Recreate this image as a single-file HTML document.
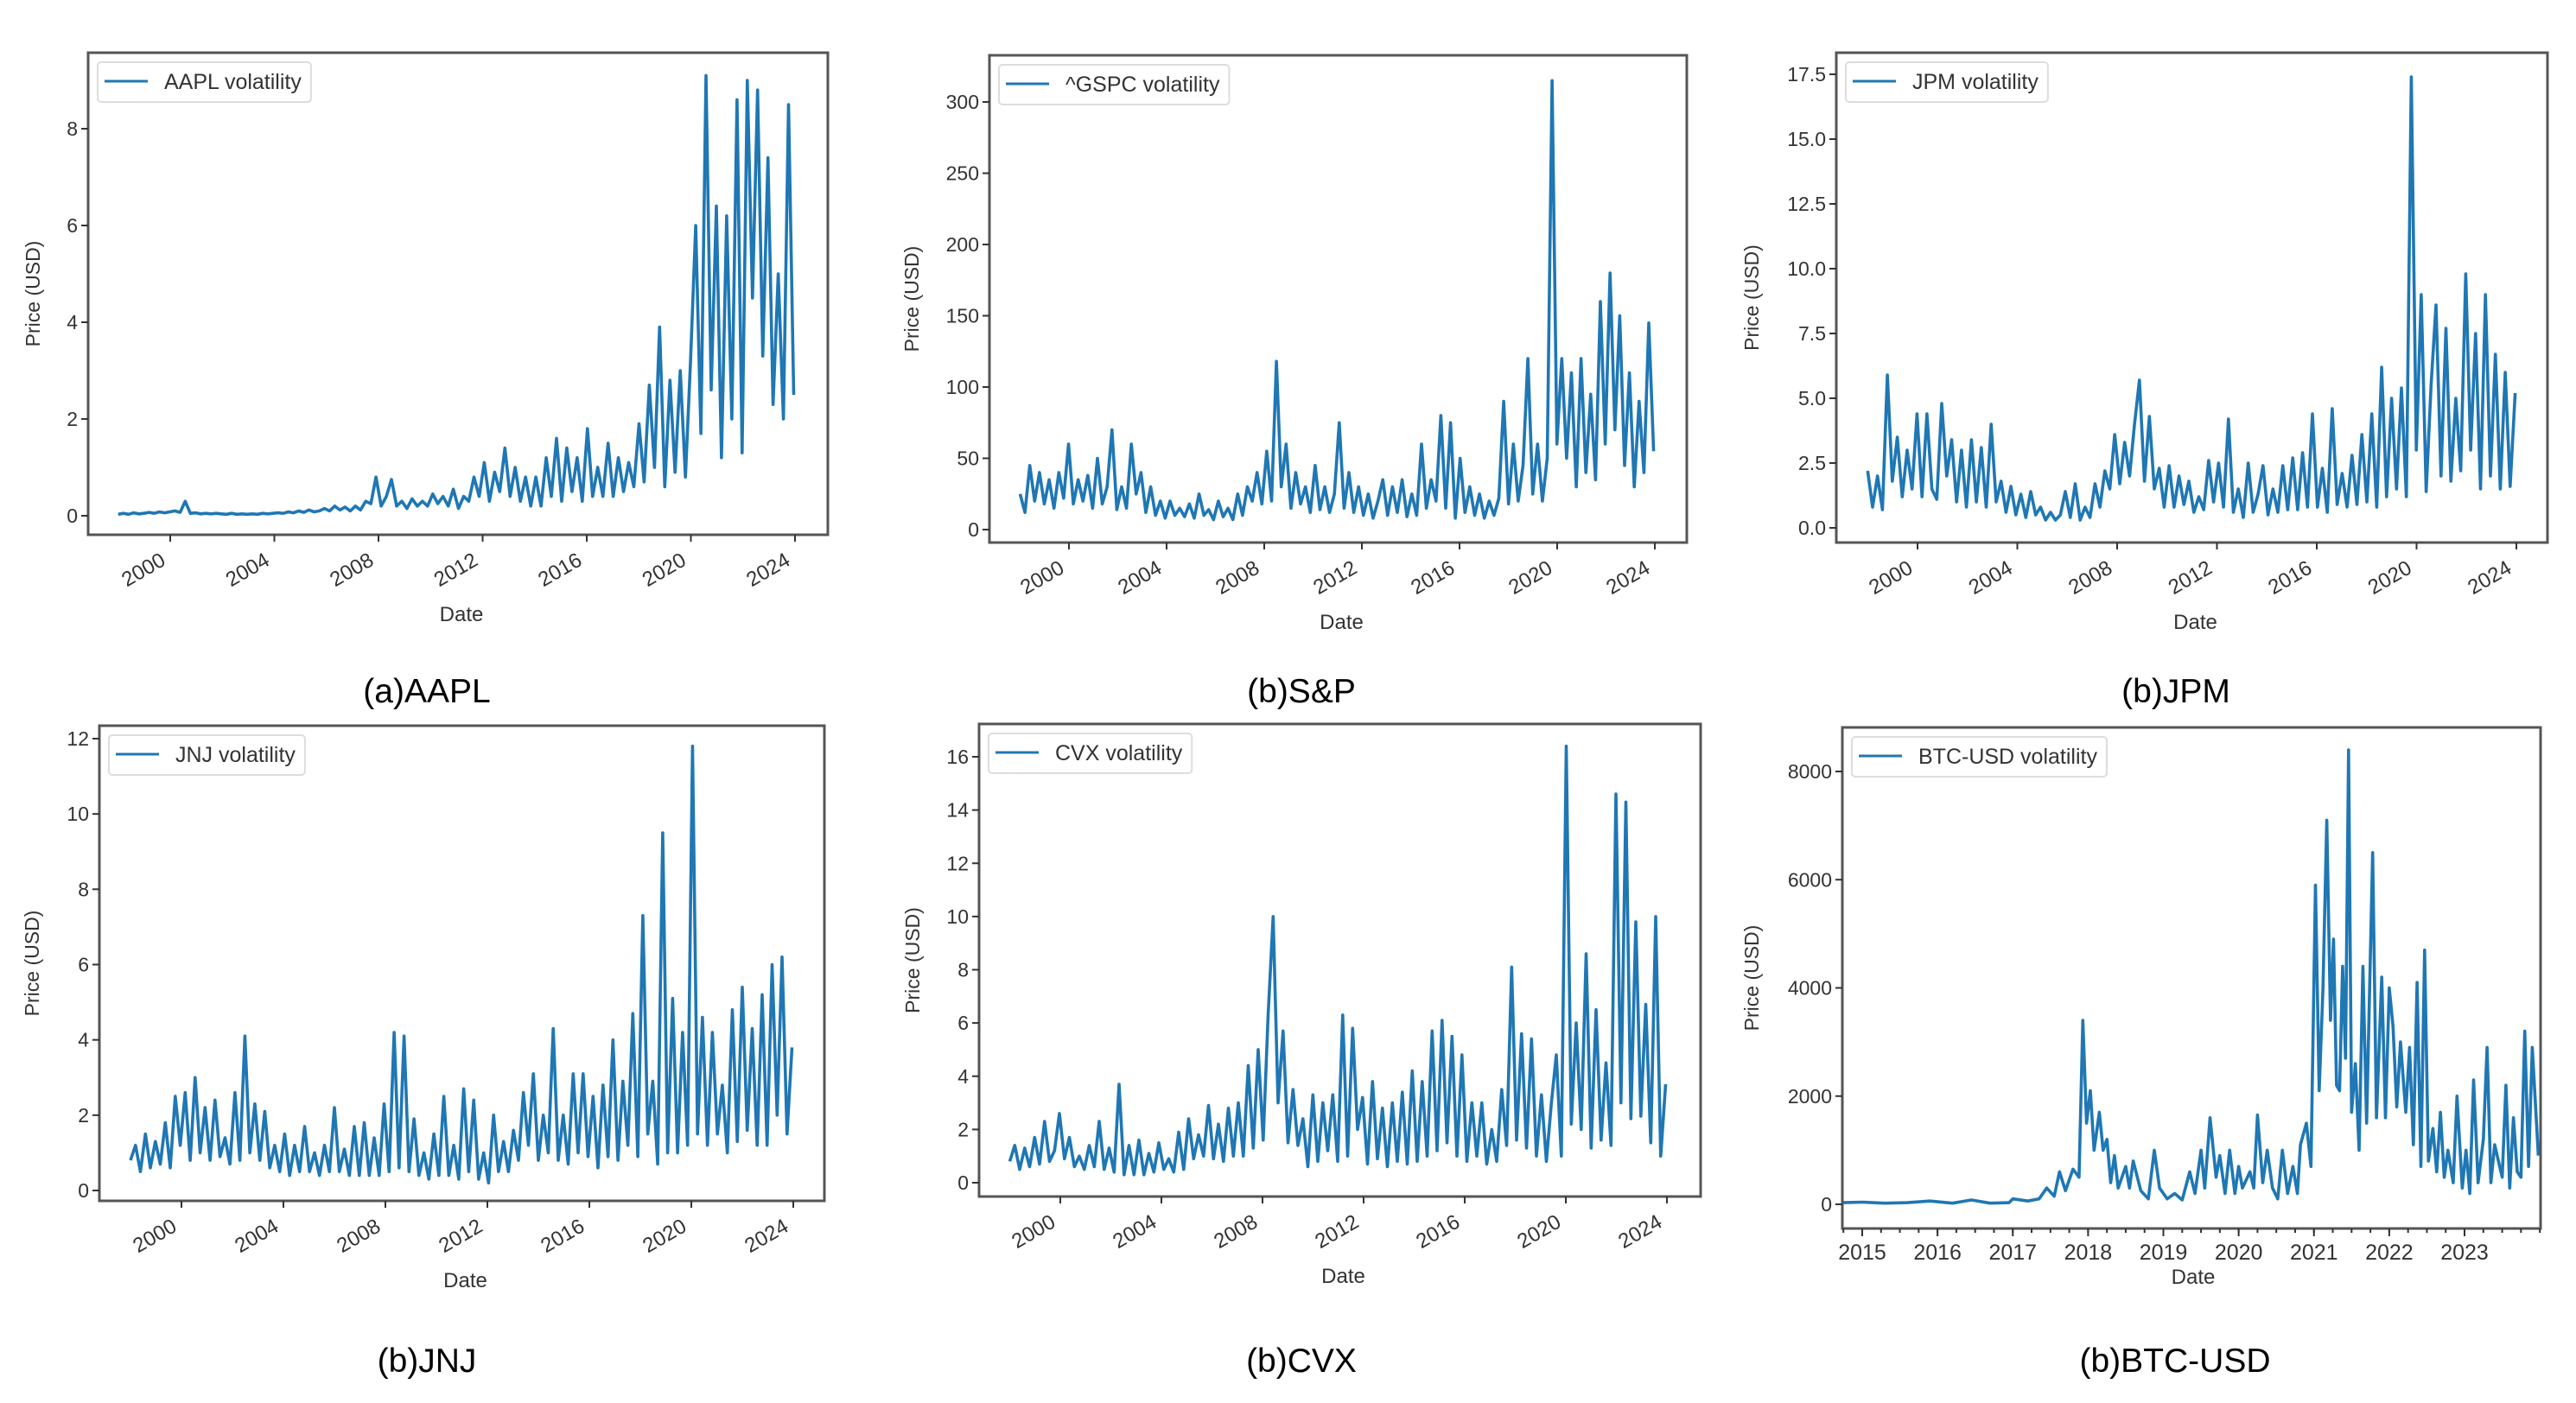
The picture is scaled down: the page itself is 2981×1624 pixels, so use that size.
<!DOCTYPE html>
<html><head><meta charset="utf-8"><style>
html,body{margin:0;padding:0;background:#fff;}
svg{display:block;font-family:"Liberation Sans","DejaVu Sans",sans-serif;}
</style></head><body>
<svg id="fig" width="2981" height="1624" viewBox="0 0 2981 1624" xmlns="http://www.w3.org/2000/svg"></svg>
<script>
// ---- data ----
const aaplValues=[0.03,0.05,0.03,0.06,0.04, 0.05,0.07,0.05,0.08,0.06, 0.08,0.1,0.07,0.3,0.05, 0.06,0.04,0.05,0.04,0.05, 0.04,0.03,0.05,0.03,0.04, 0.03,0.04,0.03,0.05,0.04, 0.05,0.06,0.05,0.08,0.06, 0.1,0.07,0.12,0.08,0.1, 0.15,0.1,0.2,0.12,0.18, 0.1,0.2,0.12,0.3,0.25, 0.8,0.2,0.4,0.75,0.2, 0.3,0.15,0.35,0.2,0.3, 0.2,0.45,0.25,0.4,0.2, 0.55,0.15,0.4,0.3,0.8, 0.4,1.1,0.3,0.9,0.5, 1.4,0.4,1.0,0.3,0.8, 0.2,0.8,0.2,1.2,0.4, 1.6,0.3,1.4,0.5,1.2, 0.3,1.8,0.4,1.0,0.4, 1.5,0.4,1.2,0.5,1.1, 0.6,1.9,0.7,2.7,1.0, 3.9,0.6,2.8,0.9,3.0, 0.8,3.2,6.0,1.7,9.1, 2.6,6.4,1.2,6.2,2.0, 8.6,1.3,9.0,4.5,8.8, 3.3,7.4,2.3,5.0,2.0, 8.5,2.5];
const spxValues=[25,12,45,20,40, 18,35,15,40,22, 60,18,35,20,38, 15,50,18,30,70, 14,30,15,60,25, 40,12,30,10,20, 8,20,10,15,9, 18,8,25,10,14, 7,20,9,15,7, 25,10,30,20,40, 18,55,20,118,30, 60,15,40,18,30, 12,45,14,30,12, 25,75,15,40,12, 30,10,25,8,20, 35,10,30,12,35, 9,25,10,60,15, 35,20,80,15,75, 8,50,12,30,10, 25,8,20,10,22, 90,18,60,20,45, 120,25,60,20,50, 315,60,120,50,110, 30,120,40,95,35, 160,60,180,70,150, 45,110,30,90,40, 145,55];
const jpmValues=[2.2,0.8,2.0,0.7,5.9, 1.8,3.5,1.2,3.0,1.5, 4.4,1.2,4.4,1.5,1.1, 4.8,2.0,3.4,1.0,3.0, 0.8,3.4,1.0,3.1,0.8, 4.0,1.0,1.8,0.6,1.6, 0.5,1.3,0.4,1.4,0.5, 0.8,0.3,0.6,0.3,0.5, 1.4,0.4,1.7,0.3,0.8, 0.4,1.7,0.8,2.2,1.5, 3.6,1.7,3.3,2.0,4.0, 5.7,1.8,4.3,1.5,2.3, 0.8,2.4,0.8,2.0,0.9, 1.8,0.6,1.2,0.7,2.6, 1.0,2.5,0.8,4.2,0.6, 1.5,0.4,2.5,0.6,1.3, 2.4,0.5,1.5,0.6,2.4, 0.7,2.7,0.7,2.9,0.8, 4.4,0.8,2.3,0.6,4.6, 0.9,2.1,0.8,2.8,0.9, 3.6,1.0,4.4,0.8,6.2, 1.2,5.0,1.5,5.4,1.2, 17.4,3.0,9.0,1.4,5.5, 8.6,2.0,7.7,1.8,5.0, 2.2,9.8,3.0,7.5,1.5, 9.0,2.0,6.7,1.5,6.0, 1.6,5.2];
const jnjValues=[0.8,1.2,0.5,1.5,0.6, 1.3,0.7,1.8,0.6,2.5, 1.2,2.6,0.8,3.0,1.0, 2.2,0.8,2.4,0.9,1.4, 0.7,2.6,0.8,4.1,1.0, 2.3,0.8,2.1,0.6,1.2, 0.5,1.5,0.4,1.2,0.5, 1.7,0.5,1.0,0.4,1.2, 0.5,2.2,0.5,1.1,0.4, 1.7,0.4,1.8,0.4,1.4, 0.4,2.3,0.5,4.2,0.6, 4.1,0.5,1.9,0.4,1.0, 0.3,1.5,0.4,2.5,0.4, 1.2,0.3,2.7,0.5,2.4, 0.3,1.0,0.2,2.0,0.5, 1.3,0.5,1.6,0.8,2.6, 1.2,3.1,0.8,2.0,1.0, 4.3,0.8,2.0,0.7,3.1, 1.0,3.1,0.9,2.5,0.6, 2.8,0.9,4.0,0.8,2.9, 1.2,4.7,0.9,7.3,1.5, 2.9,0.7,9.5,1.0,5.1, 1.0,4.2,1.2,11.8,1.5, 4.6,1.2,4.2,1.5,2.8, 1.0,4.8,1.3,5.4,1.6, 4.3,1.2,5.2,1.2,6.0, 2.0,6.2,1.5,3.8];
const cvxValues=[0.8,1.4,0.5,1.3,0.6, 1.7,0.7,2.3,0.8,1.2, 2.6,0.9,1.7,0.6,1.0, 0.5,1.4,0.6,2.3,0.5, 1.3,0.4,3.7,0.3,1.4, 0.3,1.6,0.3,1.1,0.4, 1.5,0.5,0.9,0.4,1.9, 0.5,2.4,0.9,1.8,1.0, 2.9,0.9,2.2,0.8,2.8, 1.0,3.0,1.0,4.4,1.3, 5.0,1.6,6.3,10.0,3.0, 5.7,1.5,3.5,1.4,2.4, 0.6,3.3,0.8,3.0,1.2, 3.3,0.8,6.3,1.0,5.8, 2.0,3.2,0.7,3.8,0.9, 2.8,0.6,3.0,0.8,3.4, 0.7,4.2,0.8,3.8,1.0, 5.7,1.2,6.1,1.5,5.5, 1.0,4.8,0.8,3.0,1.0, 3.0,0.7,2.0,0.8,3.5, 1.4,8.1,1.6,5.6,1.3, 5.4,1.0,3.3,0.8,3.0, 4.8,1.0,16.4,2.2,6.0, 2.0,8.6,1.3,6.5,1.6, 4.5,1.4,14.6,3.0,14.3, 2.4,9.8,2.5,6.7,1.5, 10.0,1.0,3.7];
const btcDates=[2014.75,2015.0,2015.3,2015.6,2015.9,2016.2,2016.45,2016.7,2016.95,2017.0,2017.2,2017.35,2017.45,2017.55,2017.62,2017.7,2017.8,2017.88,2017.93,2017.98,2018.03,2018.08,2018.15,2018.2,2018.25,2018.3,2018.35,2018.4,2018.5,2018.55,2018.6,2018.7,2018.8,2018.88,2018.95,2019.05,2019.15,2019.25,2019.35,2019.42,2019.5,2019.55,2019.62,2019.7,2019.75,2019.82,2019.88,2019.95,2020.0,2020.05,2020.15,2020.2,2020.25,2020.32,2020.38,2020.45,2020.52,2020.58,2020.65,2020.72,2020.78,2020.82,2020.9,2020.96,2021.02,2021.07,2021.12,2021.17,2021.22,2021.26,2021.3,2021.34,2021.38,2021.42,2021.46,2021.5,2021.55,2021.6,2021.65,2021.7,2021.78,2021.83,2021.9,2021.95,2022.0,2022.05,2022.1,2022.15,2022.22,2022.27,2022.32,2022.37,2022.42,2022.47,2022.52,2022.58,2022.63,2022.68,2022.73,2022.78,2022.85,2022.9,2022.97,2023.02,2023.07,2023.12,2023.18,2023.25,2023.3,2023.35,2023.4,2023.5,2023.55,2023.6,2023.65,2023.7,2023.75,2023.8,2023.85,2023.9,2023.98];
const btcValues=[30,40,20,30,60,20,80,20,30,100,60,100,300,150,600,250,650,500,3400,1500,2100,1000,1700,1000,1200,400,900,300,700,300,800,250,100,1000,300,100,200,80,600,200,1000,300,1600,500,900,200,1000,200,700,300,600,300,1650,400,1000,300,100,1000,200,700,200,1100,1500,700,5900,2100,4000,7100,3400,4900,2200,2100,4400,2700,8400,1700,2600,1000,4400,1500,6500,1600,4200,1600,4000,3300,1800,3000,1700,2900,1100,4100,700,4700,800,1400,600,1700,500,1000,400,2000,300,1000,200,2300,400,1200,2900,400,1100,500,2200,300,1600,600,500,3200,700,2900,900];
const stockYearTicks=[2000,2004,2008,2012,2016,2020,2024];
const btcYearTicks=[2015,2016,2017,2018,2019,2020,2021,2022,2023];
const aaplTicks=[0,2,4,6,8];
const spxTicks=[0,50,100,150,200,250,300];
const jpmTicks=[0,2.5,5,7.5,10,12.5,15,17.5];
const jnjTicks=[0,2,4,6,8,10,12];
const cvxTicks=[0,2,4,6,8,10,12,14,16];
const btcTicks=[0,2000,4000,6000,8000];

const NS="http://www.w3.org/2000/svg";
const fig=document.getElementById('fig');
function mk(tag,attrs,parent){const e=document.createElementNS(NS,tag);for(const k in attrs)e.setAttribute(k,attrs[k]);(parent||fig).appendChild(e);return e;}

const panels=[
 {key:'aapl',name:'AAPL volatility',cap:'(a)AAPL',vals:aaplValues,ticks:aaplTicks,dec:0,L:102,R:958,T:61,B:619,y0:597,yv:8,yp:149,xa:2000,xap:197,xb:2024,xbp:920,capx:494,capy:813,ylx:46},
 {key:'spx',name:'^GSPC volatility',cap:'(b)S&P',vals:spxValues,ticks:spxTicks,dec:0,L:1145,R:1952,T:64,B:628,y0:613,yv:300,yp:118,xa:2000,xap:1237,xb:2024,xbp:1915,capx:1506,capy:813,ylx:1063},
 {key:'jpm',name:'JPM volatility',cap:'(b)JPM',vals:jpmValues,ticks:jpmTicks,dec:1,L:2125,R:2948,T:61,B:628,y0:611,yv:17.5,yp:86,xa:2000,xap:2219,xb:2024,xbp:2912,capx:2518,capy:813,ylx:2035},
 {key:'jnj',name:'JNJ volatility',cap:'(b)JNJ',vals:jnjValues,ticks:jnjTicks,dec:0,L:115,R:954,T:840,B:1390,y0:1378,yv:12,yp:855,xa:2000,xap:210,xb:2024,xbp:918,capx:494,capy:1588,ylx:45},
 {key:'cvx',name:'CVX volatility',cap:'(b)CVX',vals:cvxValues,ticks:cvxTicks,dec:0,L:1133,R:1968,T:838,B:1385,y0:1369,yv:16,yp:876,xa:2000,xap:1227,xb:2024,xbp:1929,capx:1506,capy:1588,ylx:1064},
 {key:'btc',name:'BTC-USD volatility',cap:'(b)BTC-USD',vals:btcValues,dates:btcDates,ticks:btcTicks,dec:0,L:2132,R:2940,T:842,B:1422,y0:1394,yv:8000,yp:893,xa:2015,xap:2155,xb:2023,xbp:2852,capx:2517,capy:1588,ylx:2035,btc:true}
];

panels.forEach(p=>{
 const g=mk('g',{});
 
 
 const X=v=>p.xap+(v-p.xa)*(p.xbp-p.xap)/(p.xb-p.xa);
 const Y=v=>p.y0-v*(p.y0-p.yp)/p.yv;
 const n=p.vals.length;
 const pts=p.vals.map((v,i)=>{const d=p.dates?p.dates[i]:1998.0+i*(2023.95-1998.0)/(n-1);return X(d).toFixed(1)+','+Y(v).toFixed(1);}).join(' ');
 const cp=mk('clipPath',{id:'c'+p.key},g);mk('rect',{x:p.L,y:p.T,width:p.R-p.L,height:p.B-p.T},cp);
 const line=mk('polyline',{points:pts,fill:'none',stroke:'#1f77b4','stroke-width':3.6,'stroke-linejoin':'round','clip-path':'url(#c'+p.key+')'},g);
 
 
 const fr=mk('rect',{x:p.L,y:p.T,width:p.R-p.L,height:p.B-p.T,fill:'none',stroke:'#555','stroke-width':3},g);
 
 
 const yg=mk('g',{},g);
 
 
 p.ticks.forEach(t=>{const y=Y(t);mk('line',{x1:p.L-8,x2:p.L,y1:y,y2:y,stroke:'#333','stroke-width':2},yg);
  const tx=mk('text',{x:p.L-12,y:y+8,'text-anchor':'end','font-size':23,fill:'#333'},yg);tx.textContent=p.dec?t.toFixed(1):String(t);
  
  });
 const yl=mk('text',{x:p.ylx,y:(p.T+p.B)/2,'text-anchor':'middle','font-size':23,fill:'#333',transform:'rotate(-90 '+p.ylx+' '+(p.T+p.B)/2+')'},g);
 yl.textContent='Price (USD)';
 
 
 const xg=mk('g',{},g);
 
 
 if(p.btc){
  btcYearTicks.forEach(t=>{const x=X(t);mk('line',{x1:x,x2:x,y1:p.B,y2:p.B+9,stroke:'#333','stroke-width':2},xg);
   const tx=mk('text',{x:x,y:p.B+36,'text-anchor':'middle','font-size':25,fill:'#333'},xg);tx.textContent=String(t);
   
   });
  for(let q=2014.75;q<2024.01;q+=0.25){const x=X(q);if(x<p.L-1||x>p.R+1)continue;mk('line',{x1:x,x2:x,y1:p.B,y2:p.B+5,stroke:'#333','stroke-width':2},xg);}
  const dl=mk('text',{x:(p.L+p.R)/2+2,y:p.B+64,'text-anchor':'middle','font-size':24,fill:'#333'},g);dl.textContent='Date';
  
  
 }else{
  stockYearTicks.forEach(t=>{const x=X(t);mk('line',{x1:x,x2:x,y1:p.B,y2:p.B+8,stroke:'#333','stroke-width':2},xg);
   const ax=x-4,ay=p.B+34;
   const tx=mk('text',{x:ax,y:ay,'text-anchor':'end','font-size':24,fill:'#333',transform:'rotate(-30 '+ax+' '+ay+')'},xg);tx.textContent=String(t);
   
   });
  const dl=mk('text',{x:(p.L+p.R)/2+4,y:p.B+100,'text-anchor':'middle','font-size':24,fill:'#333'},g);dl.textContent='Date';
  
  
 }
 const lg=mk('g',{},g);
 
 
 const lx=p.L+11,ly=p.T+11;
 const lt=mk('text',{x:lx+77,y:ly+31,'font-size':25,fill:'#333'},lg);lt.textContent=p.name;
 
 
 const w=lt.getComputedTextLength();
 const lb=mk('rect',{x:lx,y:ly,width:w+88,height:46,rx:4,fill:'#fff',stroke:'#ddd','stroke-width':2},lg);
 lg.insertBefore(lb,lt);
 mk('line',{x1:lx+8,x2:lx+58,y1:ly+22,y2:ly+22,stroke:'#1f77b4','stroke-width':3},lg);
 const c=mk('text',{x:p.capx,y:p.capy,'text-anchor':'middle','font-size':39,fill:'#000'},g);c.textContent=p.cap;
 
 
});
</script>
</body></html>
